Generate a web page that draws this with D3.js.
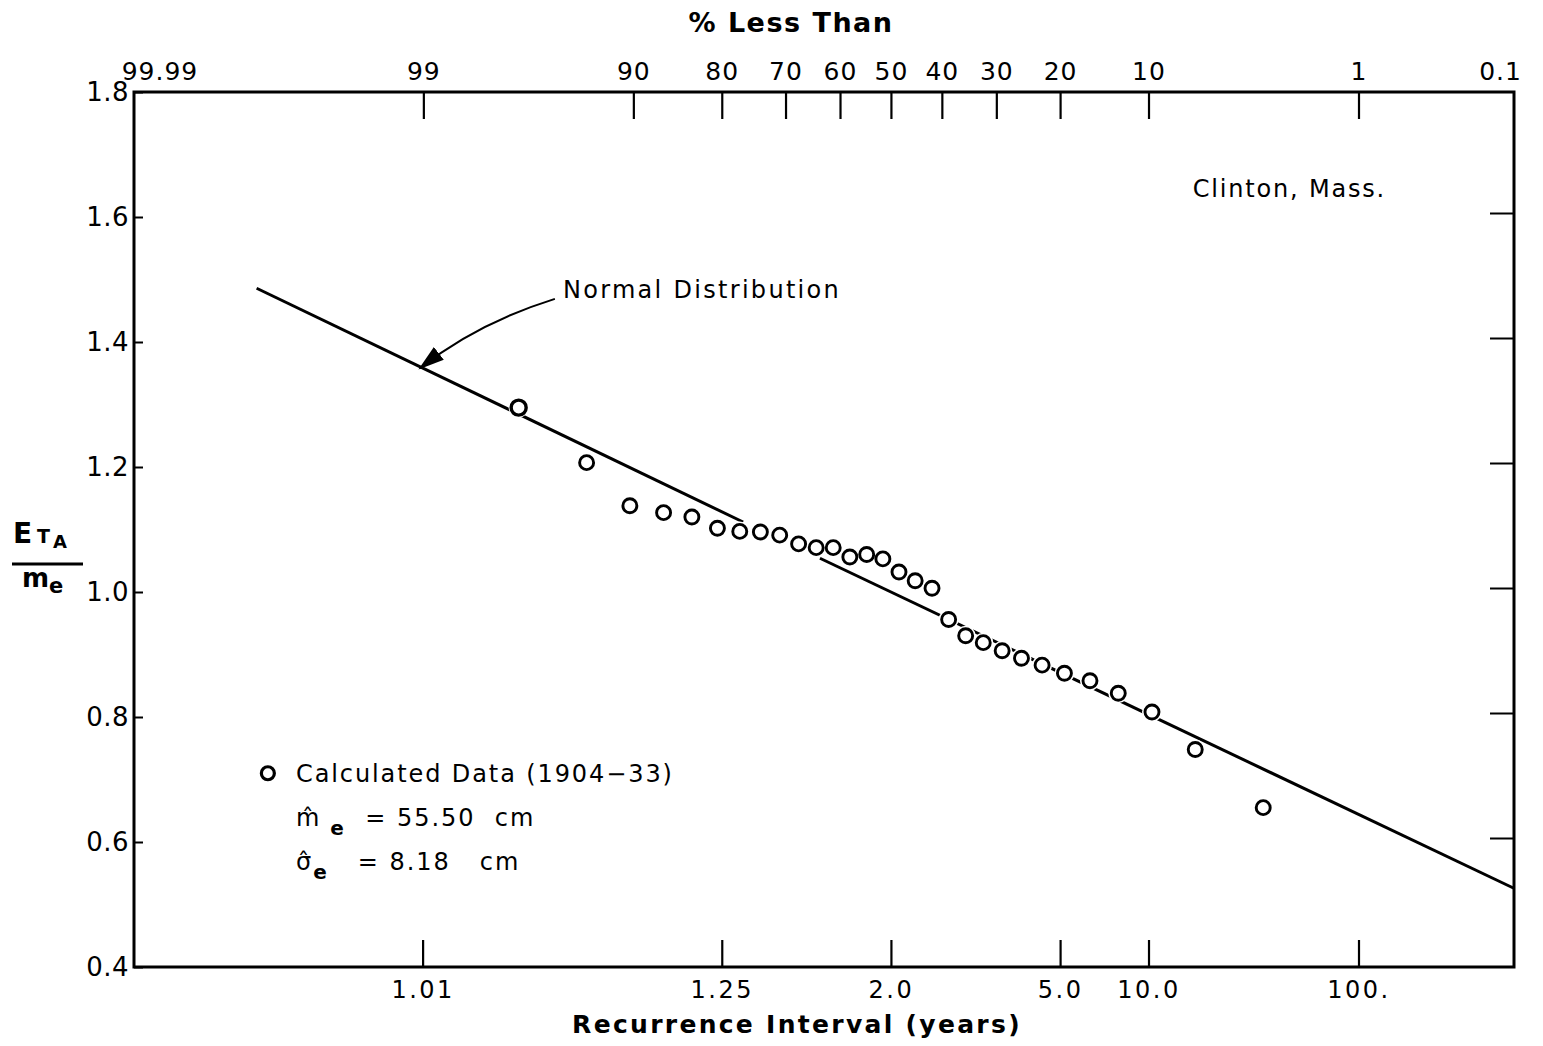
<!DOCTYPE html>
<html>
<head>
<meta charset="utf-8">
<script src="https://cdn.jsdelivr.net/npm/d3@7"></script>
<style>
  body { margin: 0; background: #fff; }
  svg { display: block; font-family: "DejaVu Sans", sans-serif; }
  .tick text { font-family: "DejaVu Sans", sans-serif; }
  .pre { white-space: pre; }
</style>
</head>
<body>
<svg id="chart" width="1543" height="1046"></svg>
<script>
// plotting positions, read as "% Less Than" off the top axis
const pctLessThan = [96.8, 93.5, 90.3, 87.1, 83.9, 80.6, 77.4, 74.2, 71.0, 67.7,
  64.5, 61.3, 58.1, 54.8, 51.6, 48.4, 45.2, 41.9, 38.7, 35.5,
  32.3, 29.0, 25.8, 22.6, 19.4, 16.1, 12.9, 9.7, 6.5, 3.2];
// E_TA / m_e
const ratioValues = [1.295, 1.207, 1.138, 1.127, 1.120, 1.102, 1.097, 1.096, 1.091, 1.077,
  1.071, 1.071, 1.056, 1.060, 1.053, 1.032, 1.018, 1.006, 0.956, 0.930,
  0.919, 0.906, 0.894, 0.883, 0.870, 0.858, 0.838, 0.808, 0.748, 0.655];

// fitted normal distribution line, drawn in two pieces [% less than, ratio]
const normalLine = [
  [[99.92, 1.486], [76.9, 1.112]],
  [[63.8, 1.054], [0.097, 0.526]]
];

const topTicks = [99.99, 99, 90, 80, 70, 60, 50, 40, 30, 20, 10, 1, 0.1];
const topLabels = ['99.99', '99', '90', '80', '70', '60', '50', '40', '30', '20', '10', '1', '0.1'];
const bottomTicks = [1.01, 1.25, 2.0, 5.0, 10.0, 100];
const bottomLabels = ['1.01', '1.25', '2.0', '5.0', '10.0', '100.'];
const yTicks = [0.4, 0.6, 0.8, 1.0, 1.2, 1.4, 1.6, 1.8];

// inverse normal cdf (Acklam)
function probit(p){
  const a = [-3.969683028665376e+01, 2.209460984245205e+02, -2.759285104469687e+02, 1.383577518672690e+02, -3.066479806614716e+01, 2.506628277459239e+00];
  const b = [-5.447609879822406e+01, 1.615858368580409e+02, -1.556989798598866e+02, 6.680131188771972e+01, -1.328068155288572e+01];
  const c = [-7.784894002430293e-03, -3.223964580411365e-01, -2.400758277161838e+00, -2.549671669615330e+00, 4.374664141464968e+00, 2.938163982698783e+00];
  const d = [7.784695709041462e-03, 3.224671290700398e-01, 2.445134137142996e+00, 3.754408661907416e+00];
  const pl = 0.02425;
  let q, r;
  if (p < pl) {
    q = Math.sqrt(-2 * Math.log(p));
    return (((((c[0]*q+c[1])*q+c[2])*q+c[3])*q+c[4])*q+c[5]) / ((((d[0]*q+d[1])*q+d[2])*q+d[3])*q+1);
  }
  if (p > 1 - pl) {
    q = Math.sqrt(-2 * Math.log(1 - p));
    return -(((((c[0]*q+c[1])*q+c[2])*q+c[3])*q+c[4])*q+c[5]) / ((((d[0]*q+d[1])*q+d[2])*q+d[3])*q+1);
  }
  q = p - 0.5; r = q * q;
  return (((((a[0]*r+a[1])*r+a[2])*r+a[3])*r+a[4])*r+a[5])*q / (((((b[0]*r+b[1])*r+b[2])*r+b[3])*r+b[4])*r+1);
}
const zPct = p => probit(1 - p / 100);      // % less than -> reduced variate
const zT = T => probit(1 - 1 / T);          // recurrence interval -> reduced variate

const margin = {left: 134, right: 1514, top: 92, bottom: 967};

const x = d3.scaleLinear().domain([-3.766, 3.10]).range([margin.left, margin.right]);
const y = d3.scaleLinear().domain([0.4, 1.8]).range([margin.bottom, margin.top]);

const svg = d3.select('#chart');

// top axis, % less than
let topAxis = svg.append('g')
  .attr('transform', `translate(0,${margin.top})`)
  .call(d3.axisTop(x)
    .tickValues(topTicks.map(zPct))
    .tickFormat((d, i) => topLabels[i])
    .tickSizeInner(-27).tickSizeOuter(0).tickPadding(12));
topAxis.select('.domain').remove();
topAxis.selectAll('.tick line').attr('stroke', '#000').attr('stroke-width', 2.2)
  .attr('display', (d, i) => (i === 0 || i === topTicks.length - 1) ? 'none' : null);
topAxis.selectAll('.tick text').attr('font-size', 25).attr('fill', '#000')
  .attr('letter-spacing', 1)
  .attr('dx', (d, i) => i === 0 ? 16 : (i === topTicks.length - 1 ? -12 : 0));

// bottom axis, recurrence interval
let botAxis = svg.append('g')
  .attr('transform', `translate(0,${margin.bottom})`)
  .call(d3.axisBottom(x)
    .tickValues(bottomTicks.map(zT))
    .tickFormat((d, i) => bottomLabels[i])
    .tickSizeInner(-27).tickSizeOuter(0).tickPadding(14));
botAxis.select('.domain').remove();
botAxis.selectAll('.tick line').attr('stroke', '#000').attr('stroke-width', 2.2);
botAxis.selectAll('.tick text').attr('font-size', 24).attr('fill', '#000').attr('letter-spacing', 2.5);

// left axis
let leftAxis = svg.append('g')
  .attr('transform', `translate(${margin.left},0)`)
  .call(d3.axisLeft(y)
    .tickValues(yTicks)
    .tickFormat(d3.format('.1f'))
    .tickSizeInner(-9).tickSizeOuter(0).tickPadding(5));
leftAxis.select('.domain').remove();
leftAxis.selectAll('.tick line').attr('stroke', '#000').attr('stroke-width', 2);
leftAxis.selectAll('.tick text').attr('font-size', 26).attr('fill', '#000').attr('letter-spacing', 0.5);

// right axis ticks only
let rightAxis = svg.append('g')
  .attr('transform', `translate(${margin.right},-4)`)
  .call(d3.axisRight(y)
    .tickValues(yTicks.slice(1, -1))
    .tickFormat('')
    .tickSizeInner(-24).tickSizeOuter(0));
rightAxis.select('.domain').remove();
rightAxis.selectAll('.tick line').attr('stroke', '#000').attr('stroke-width', 2);

// frame
svg.append('rect')
  .attr('x', margin.left).attr('y', margin.top)
  .attr('width', margin.right - margin.left)
  .attr('height', margin.bottom - margin.top)
  .attr('fill', 'none').attr('stroke', '#000').attr('stroke-width', 3);

// normal distribution line
let lineGen = d3.line().x(d => x(zPct(d[0]))).y(d => y(d[1]));
svg.append('g').selectAll('path.fit')
  .data(normalLine)
  .enter()
  .append('path')
  .attr('class', 'fit')
  .attr('d', lineGen)
  .attr('fill', 'none').attr('stroke', '#000').attr('stroke-width', 3);

// data points
let pts = pctLessThan.map((p, i) => ({p: p, v: ratioValues[i]}));
let ptG = svg.append('g');
ptG.selectAll('circle.halo')
  .data(pts).enter().append('circle')
  .attr('class', 'halo')
  .attr('cx', d => x(zPct(d.p))).attr('cy', d => y(d.v))
  .attr('r', 10).attr('fill', '#fff');
ptG.selectAll('circle.pt')
  .data(pts).enter().append('circle')
  .attr('class', 'pt')
  .attr('cx', d => x(zPct(d.p))).attr('cy', d => y(d.v))
  .attr('r', (d, i) => i === 0 ? 7.5 : 7)
  .attr('fill', '#fff').attr('stroke', '#000')
  .attr('stroke-width', (d, i) => i === 0 ? 3.4 : 2.9);

// titles
svg.append('text')
  .attr('x', 791).attr('y', 32)
  .attr('text-anchor', 'middle')
  .attr('font-size', 27).attr('font-weight', 'bold').attr('letter-spacing', 1.5)
  .text('% Less Than');

svg.append('text')
  .attr('x', 797).attr('y', 1033)
  .attr('text-anchor', 'middle')
  .attr('font-size', 25).attr('font-weight', 'bold').attr('letter-spacing', 2.3)
  .text('Recurrence Interval (years)');

// y label  E_TA / m_e
let yl = svg.append('g').attr('font-weight', 'bold');
yl.append('text').attr('x', 13).attr('y', 543).attr('font-size', 28).text('E');
yl.append('text').attr('x', 37).attr('y', 543).attr('font-size', 19).text('T');
yl.append('text').attr('x', 53).attr('y', 548).attr('font-size', 18).text('A');
yl.append('line').attr('x1', 12).attr('x2', 83).attr('y1', 564).attr('y2', 564)
  .attr('stroke', '#000').attr('stroke-width', 3);
yl.append('text').attr('x', 22).attr('y', 587).attr('font-size', 26).text('m');
yl.append('text').attr('x', 49).attr('y', 593).attr('font-size', 21).text('e');

// station label
svg.append('text')
  .attr('x', x(1.502)).attr('y', y(1.632))
  .attr('font-size', 24).attr('letter-spacing', 1.8)
  .text('Clinton, Mass.');

// arrow annotation
svg.append('defs').append('marker')
  .attr('id', 'arrow')
  .attr('viewBox', '0 0 26 16')
  .attr('refX', 24).attr('refY', 8)
  .attr('markerWidth', 26).attr('markerHeight', 16)
  .attr('markerUnits', 'userSpaceOnUse')
  .attr('orient', 'auto')
  .append('path').attr('d', 'M0,0 L26,8 L0,16 Z').attr('fill', '#000');

let arrowPath = d3.path();
arrowPath.moveTo(x(-1.672), y(1.469));
arrowPath.quadraticCurveTo(x(-2.06), y(1.43), x(-2.343), y(1.358));
svg.append('path')
  .attr('d', arrowPath.toString())
  .attr('fill', 'none').attr('stroke', '#000').attr('stroke-width', 2)
  .attr('marker-end', 'url(#arrow)');

svg.append('text')
  .attr('x', x(-1.632)).attr('y', y(1.470))
  .attr('font-size', 24).attr('letter-spacing', 2.3)
  .text('Normal Distribution');

// legend
let lg = svg.append('g');
lg.append('circle')
  .attr('cx', x(-3.10)).attr('cy', y(0.71))
  .attr('r', 6.5).attr('fill', '#fff').attr('stroke', '#000').attr('stroke-width', 3.2);
lg.append('text')
  .attr('x', x(-2.96)).attr('y', y(0.696))
  .attr('font-size', 24).attr('letter-spacing', 1.9)
  .text('Calculated Data (1904\u221233)');

let t1 = lg.append('text')
  .attr('class', 'pre')
  .attr('x', x(-2.96)).attr('y', y(0.626))
  .attr('font-size', 24).attr('letter-spacing', 2);
t1.append('tspan').text('m\u0302');
t1.append('tspan').attr('dy', 9).attr('font-size', 20).attr('font-weight', 'bold').text(' e');
t1.append('tspan').attr('dy', -9).text('  = 55.50  cm');

let t2 = lg.append('text')
  .attr('class', 'pre')
  .attr('x', x(-2.96)).attr('y', y(0.556))
  .attr('font-size', 24).attr('letter-spacing', 2);
t2.append('tspan').text('\u03c3\u0302');
t2.append('tspan').attr('dy', 9).attr('font-size', 20).attr('font-weight', 'bold').text('e');
t2.append('tspan').attr('dy', -9).text('   = 8.18   cm');
</script>
</body>
</html>
